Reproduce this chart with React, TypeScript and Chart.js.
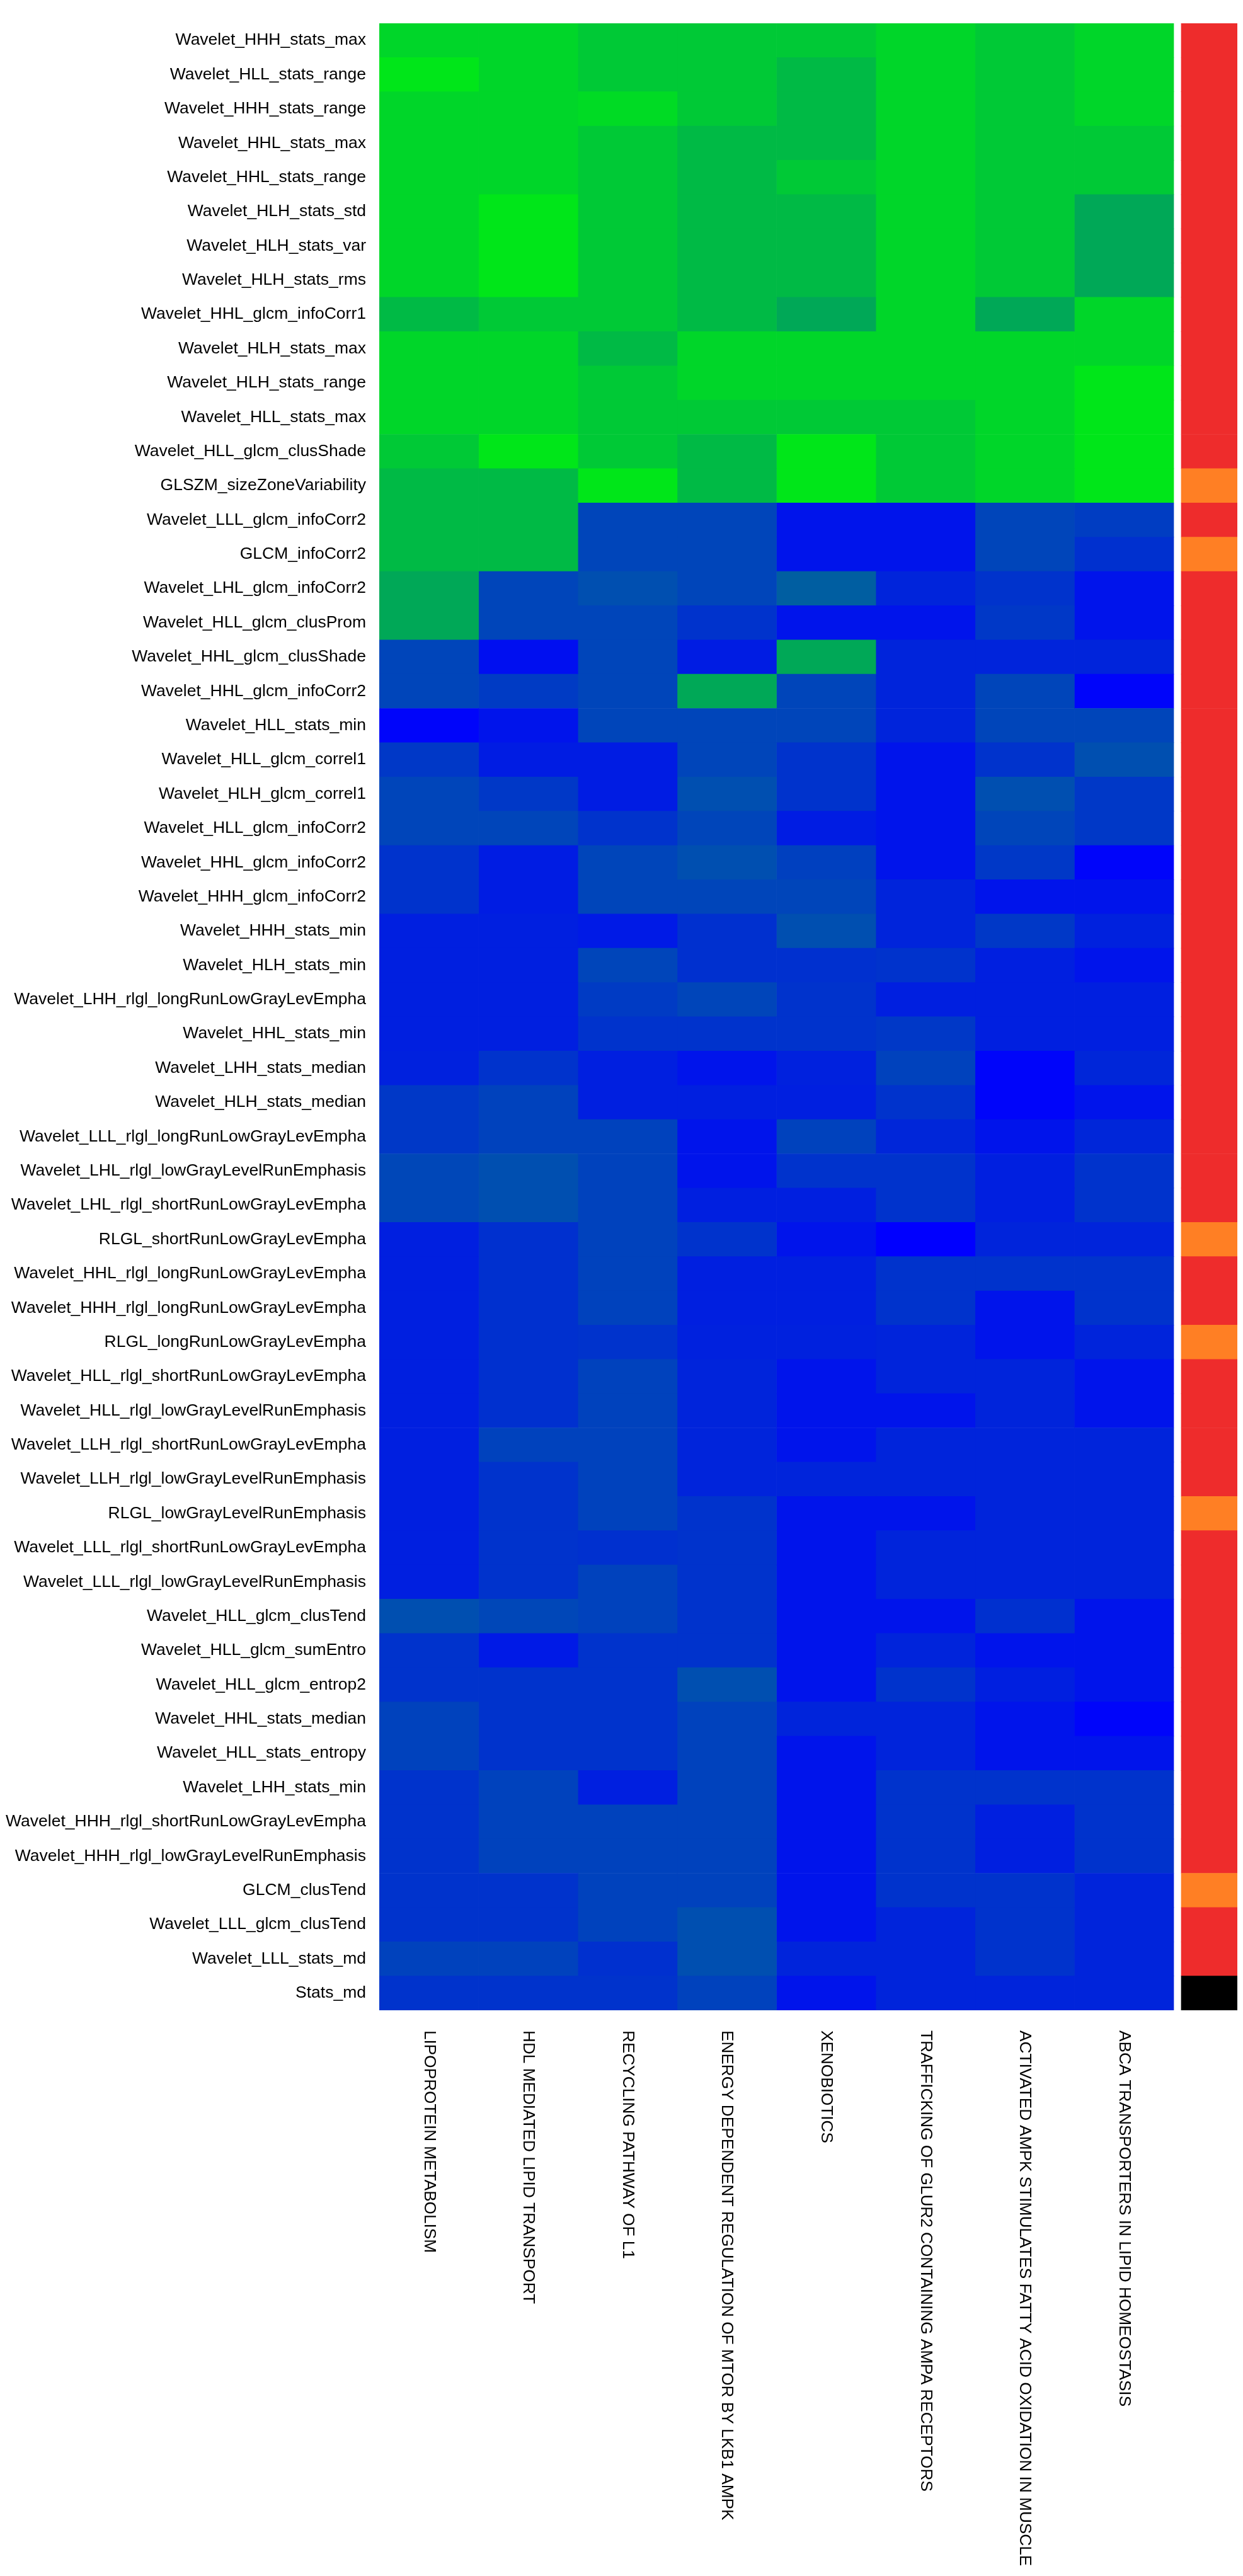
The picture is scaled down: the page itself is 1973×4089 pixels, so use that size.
import React, { useEffect, useRef } from "react";
import { Chart, registerables } from "chart.js";

Chart.register(...registerables);

// ---------- DATA ----------
const rowLabels: string[] = [
  "Wavelet_HHH_stats_max",
  "Wavelet_HLL_stats_range",
  "Wavelet_HHH_stats_range",
  "Wavelet_HHL_stats_max",
  "Wavelet_HHL_stats_range",
  "Wavelet_HLH_stats_std",
  "Wavelet_HLH_stats_var",
  "Wavelet_HLH_stats_rms",
  "Wavelet_HHL_glcm_infoCorr1",
  "Wavelet_HLH_stats_max",
  "Wavelet_HLH_stats_range",
  "Wavelet_HLL_stats_max",
  "Wavelet_HLL_glcm_clusShade",
  "GLSZM_sizeZoneVariability",
  "Wavelet_LLL_glcm_infoCorr2",
  "GLCM_infoCorr2",
  "Wavelet_LHL_glcm_infoCorr2",
  "Wavelet_HLL_glcm_clusProm",
  "Wavelet_HHL_glcm_clusShade",
  "Wavelet_HHL_glcm_infoCorr2",
  "Wavelet_HLL_stats_min",
  "Wavelet_HLL_glcm_correl1",
  "Wavelet_HLH_glcm_correl1",
  "Wavelet_HLL_glcm_infoCorr2",
  "Wavelet_HHL_glcm_infoCorr2",
  "Wavelet_HHH_glcm_infoCorr2",
  "Wavelet_HHH_stats_min",
  "Wavelet_HLH_stats_min",
  "Wavelet_LHH_rlgl_longRunLowGrayLevEmpha",
  "Wavelet_HHL_stats_min",
  "Wavelet_LHH_stats_median",
  "Wavelet_HLH_stats_median",
  "Wavelet_LLL_rlgl_longRunLowGrayLevEmpha",
  "Wavelet_LHL_rlgl_lowGrayLevelRunEmphasis",
  "Wavelet_LHL_rlgl_shortRunLowGrayLevEmpha",
  "RLGL_shortRunLowGrayLevEmpha",
  "Wavelet_HHL_rlgl_longRunLowGrayLevEmpha",
  "Wavelet_HHH_rlgl_longRunLowGrayLevEmpha",
  "RLGL_longRunLowGrayLevEmpha",
  "Wavelet_HLL_rlgl_shortRunLowGrayLevEmpha",
  "Wavelet_HLL_rlgl_lowGrayLevelRunEmphasis",
  "Wavelet_LLH_rlgl_shortRunLowGrayLevEmpha",
  "Wavelet_LLH_rlgl_lowGrayLevelRunEmphasis",
  "RLGL_lowGrayLevelRunEmphasis",
  "Wavelet_LLL_rlgl_shortRunLowGrayLevEmpha",
  "Wavelet_LLL_rlgl_lowGrayLevelRunEmphasis",
  "Wavelet_HLL_glcm_clusTend",
  "Wavelet_HLL_glcm_sumEntro",
  "Wavelet_HLL_glcm_entrop2",
  "Wavelet_HHL_stats_median",
  "Wavelet_HLL_stats_entropy",
  "Wavelet_LHH_stats_min",
  "Wavelet_HHH_rlgl_shortRunLowGrayLevEmpha",
  "Wavelet_HHH_rlgl_lowGrayLevelRunEmphasis",
  "GLCM_clusTend",
  "Wavelet_LLL_glcm_clusTend",
  "Wavelet_LLL_stats_md",
  "Stats_md",
];

const pathways: string[] = [
  "LIPOPROTEIN METABOLISM",
  "HDL MEDIATED LIPID TRANSPORT",
  "RECYCLING PATHWAY OF L1",
  "ENERGY DEPENDENT REGULATION OF MTOR BY LKB1 AMPK",
  "XENOBIOTICS",
  "TRAFFICKING OF GLUR2 CONTAINING AMPA RECEPTORS",
  "ACTIVATED AMPK STIMULATES FATTY ACID OXIDATION IN MUSCLE",
  "ABCA TRANSPORTERS IN LIPID HOMEOSTASIS",
];

// scores (0 = blue ... 1 = green), one array per pathway column, rows top to bottom
const lipoproteinMetabolism = [
  0.84, 0.90, 0.84, 0.84, 0.84, 0.84, 0.84, 0.84, 0.73, 0.84,
  0.84, 0.84, 0.79, 0.73, 0.73, 0.73, 0.66, 0.66, 0.27, 0.27,
  0.02, 0.22, 0.27, 0.27, 0.20, 0.20, 0.12, 0.12, 0.12, 0.12,
  0.13, 0.22, 0.22, 0.28, 0.28, 0.12, 0.12, 0.12, 0.12, 0.12,
  0.12, 0.12, 0.12, 0.12, 0.12, 0.12, 0.31, 0.20, 0.20, 0.26,
  0.26, 0.20, 0.20, 0.20, 0.20, 0.20, 0.26, 0.20,
];
const hdlMediatedLipidTransport = [
  0.84, 0.84, 0.84, 0.84, 0.84, 0.90, 0.90, 0.90, 0.79, 0.84,
  0.84, 0.84, 0.90, 0.73, 0.73, 0.73, 0.27, 0.27, 0.06, 0.23,
  0.08, 0.11, 0.22, 0.27, 0.11, 0.11, 0.12, 0.12, 0.12, 0.12,
  0.20, 0.26, 0.26, 0.31, 0.31, 0.19, 0.19, 0.19, 0.19, 0.19,
  0.19, 0.26, 0.20, 0.20, 0.20, 0.20, 0.28, 0.10, 0.20, 0.20,
  0.20, 0.26, 0.26, 0.26, 0.20, 0.20, 0.26, 0.20,
];
const recyclingPathwayOfL1 = [
  0.79, 0.79, 0.86, 0.79, 0.79, 0.79, 0.79, 0.79, 0.79, 0.73,
  0.79, 0.79, 0.79, 0.90, 0.27, 0.27, 0.31, 0.27, 0.27, 0.27,
  0.27, 0.11, 0.11, 0.20, 0.27, 0.27, 0.10, 0.27, 0.23, 0.20,
  0.12, 0.12, 0.26, 0.26, 0.26, 0.26, 0.26, 0.26, 0.20, 0.26,
  0.26, 0.26, 0.26, 0.26, 0.19, 0.26, 0.26, 0.20, 0.20, 0.20,
  0.20, 0.12, 0.26, 0.26, 0.26, 0.26, 0.19, 0.20,
];
const energyDependentRegulationOfMtor = [
  0.79, 0.79, 0.79, 0.73, 0.73, 0.73, 0.73, 0.73, 0.73, 0.84,
  0.84, 0.79, 0.73, 0.73, 0.27, 0.27, 0.27, 0.20, 0.11, 0.66,
  0.27, 0.27, 0.31, 0.27, 0.31, 0.27, 0.19, 0.19, 0.27, 0.20,
  0.08, 0.12, 0.08, 0.08, 0.12, 0.20, 0.12, 0.12, 0.13, 0.14,
  0.14, 0.14, 0.14, 0.20, 0.20, 0.20, 0.20, 0.20, 0.31, 0.26,
  0.26, 0.26, 0.26, 0.26, 0.26, 0.31, 0.31, 0.26,
];
const xenobiotics = [
  0.79, 0.73, 0.73, 0.73, 0.79, 0.73, 0.73, 0.73, 0.66, 0.84,
  0.84, 0.79, 0.90, 0.90, 0.08, 0.08, 0.37, 0.08, 0.66, 0.27,
  0.27, 0.20, 0.20, 0.11, 0.25, 0.27, 0.31, 0.19, 0.20, 0.20,
  0.13, 0.12, 0.26, 0.20, 0.12, 0.08, 0.12, 0.12, 0.13, 0.08,
  0.08, 0.08, 0.14, 0.08, 0.08, 0.08, 0.08, 0.08, 0.08, 0.14,
  0.08, 0.08, 0.08, 0.08, 0.08, 0.08, 0.14, 0.08,
];
const traffickingOfGlur2 = [
  0.84, 0.84, 0.84, 0.84, 0.84, 0.84, 0.84, 0.84, 0.84, 0.84,
  0.84, 0.79, 0.79, 0.79, 0.08, 0.08, 0.14, 0.08, 0.14, 0.14,
  0.14, 0.08, 0.08, 0.08, 0.08, 0.14, 0.14, 0.20, 0.12, 0.22,
  0.26, 0.20, 0.15, 0.20, 0.20, 0.00, 0.20, 0.20, 0.14, 0.14,
  0.08, 0.14, 0.14, 0.08, 0.14, 0.14, 0.08, 0.14, 0.20, 0.14,
  0.14, 0.20, 0.20, 0.20, 0.20, 0.14, 0.14, 0.14,
];
const activatedAmpkFattyAcidOxidation = [
  0.79, 0.79, 0.79, 0.79, 0.79, 0.79, 0.79, 0.79, 0.66, 0.84,
  0.84, 0.84, 0.84, 0.84, 0.27, 0.27, 0.20, 0.22, 0.14, 0.27,
  0.27, 0.20, 0.31, 0.27, 0.22, 0.08, 0.22, 0.12, 0.12, 0.12,
  0.02, 0.02, 0.08, 0.12, 0.12, 0.14, 0.20, 0.08, 0.08, 0.14,
  0.14, 0.14, 0.14, 0.14, 0.14, 0.14, 0.19, 0.08, 0.12, 0.08,
  0.08, 0.20, 0.12, 0.12, 0.20, 0.20, 0.20, 0.14,
];
const abcaTransporters = [
  0.84, 0.84, 0.84, 0.79, 0.79, 0.66, 0.66, 0.66, 0.84, 0.84,
  0.90, 0.90, 0.90, 0.90, 0.24, 0.19, 0.08, 0.08, 0.14, 0.02,
  0.27, 0.31, 0.22, 0.22, 0.02, 0.08, 0.13, 0.08, 0.12, 0.12,
  0.15, 0.08, 0.15, 0.20, 0.20, 0.14, 0.20, 0.20, 0.14, 0.08,
  0.08, 0.14, 0.14, 0.14, 0.14, 0.14, 0.08, 0.08, 0.08, 0.02,
  0.08, 0.20, 0.20, 0.20, 0.14, 0.14, 0.14, 0.14,
];

// feature type annotation per row
const featureType: string[] = [
  "wavelet", "wavelet", "wavelet", "wavelet", "wavelet", "wavelet", "wavelet", "wavelet", "wavelet", "wavelet",
  "wavelet", "wavelet", "wavelet", "original", "wavelet", "original", "wavelet", "wavelet", "wavelet", "wavelet",
  "wavelet", "wavelet", "wavelet", "wavelet", "wavelet", "wavelet", "wavelet", "wavelet", "wavelet", "wavelet",
  "wavelet", "wavelet", "wavelet", "wavelet", "wavelet", "original", "wavelet", "wavelet", "original", "wavelet",
  "wavelet", "wavelet", "wavelet", "original", "wavelet", "wavelet", "wavelet", "wavelet", "wavelet", "wavelet",
  "wavelet", "wavelet", "wavelet", "wavelet", "original", "wavelet", "wavelet", "stats",
];

const featureTypeColors: Record<string, string> = {
  wavelet: "#EE2C2C",
  original: "#FF7F24",
  stats: "#000000",
};

// ---------- helpers ----------
function scoreColor(t: number): string {
  const g = Math.round(255 * t);
  const b = Math.round(255 * (1 - t));
  return `rgb(0,${g},${b})`;
}

const X_MAX = 8.6408;
const ANNOT_START = 8.0761;
const FONT_FAMILY = "'Liberation Sans', Arial, sans-serif";

const columnLabelPlugin = {
  id: "columnLabels",
  afterDraw(chart: any) {
    const { ctx, chartArea, scales } = chart;
    ctx.save();
    ctx.font = `26.2px ${FONT_FAMILY}`;
    ctx.fillStyle = "#000000";
    ctx.textAlign = "left";
    ctx.textBaseline = "middle";
    pathways.forEach((name, c) => {
      const x = scales.x.getPixelForValue(c + 0.5);
      const y = chartArea.bottom + 32;
      ctx.save();
      ctx.translate(x, y);
      ctx.rotate(Math.PI / 2);
      ctx.fillText(name, 0, 0);
      ctx.restore();
    });
    ctx.restore();
  },
};

export default function App() {
  const canvasRef = useRef<HTMLCanvasElement | null>(null);

  useEffect(() => {
    document.body.style.margin = "0";
    const canvas = canvasRef.current;
    if (!canvas) return;

    const columns = [
      lipoproteinMetabolism,
      hdlMediatedLipidTransport,
      recyclingPathwayOfL1,
      energyDependentRegulationOfMtor,
      xenobiotics,
      traffickingOfGlur2,
      activatedAmpkFattyAcidOxidation,
      abcaTransporters,
    ];

    const datasets: any[] = columns.map((vals, c) => ({
      label: pathways[c],
      data: vals.map(() => [c, c + 1]),
      backgroundColor: vals.map(scoreColor),
      borderWidth: 0,
      barPercentage: 1,
      categoryPercentage: 1,
      grouped: false,
    }));

    datasets.push({
      label: "Feature type",
      data: featureType.map(() => [ANNOT_START, X_MAX]),
      backgroundColor: featureType.map((f) => featureTypeColors[f]),
      borderWidth: 0,
      barPercentage: 1,
      categoryPercentage: 1,
      grouped: false,
    });

    const chart = new Chart(canvas, {
      type: "bar",
      data: { labels: rowLabels, datasets },
      options: {
        indexAxis: "y",
        animation: false,
        responsive: false,
        maintainAspectRatio: false,
        layout: { padding: { top: 16, right: 9, left: 0, bottom: 0 } },
        plugins: {
          legend: { display: false },
          tooltip: { enabled: false },
        },
        scales: {
          x: {
            type: "linear",
            min: 0,
            max: X_MAX,
            grid: { display: false, drawTicks: false },
            border: { display: false },
            ticks: { display: false },
            afterFit: (s: any) => {
              s.height = 898;
            },
          },
          y: {
            type: "category",
            grid: { display: false, drawTicks: false },
            border: { display: false },
            ticks: {
              autoSkip: false,
              color: "#000000",
              padding: 21,
              font: { family: FONT_FAMILY, size: 26.5 },
            },
            afterFit: (s: any) => {
              s.width = 602;
            },
          },
        },
      } as any,
      plugins: [columnLabelPlugin],
    });

    return () => chart.destroy();
  }, []);

  return (
    <canvas
      ref={canvasRef}
      width={1973}
      height={4089}
      style={{ display: "block", width: "1973px", height: "4089px" }}
    />
  );
}
